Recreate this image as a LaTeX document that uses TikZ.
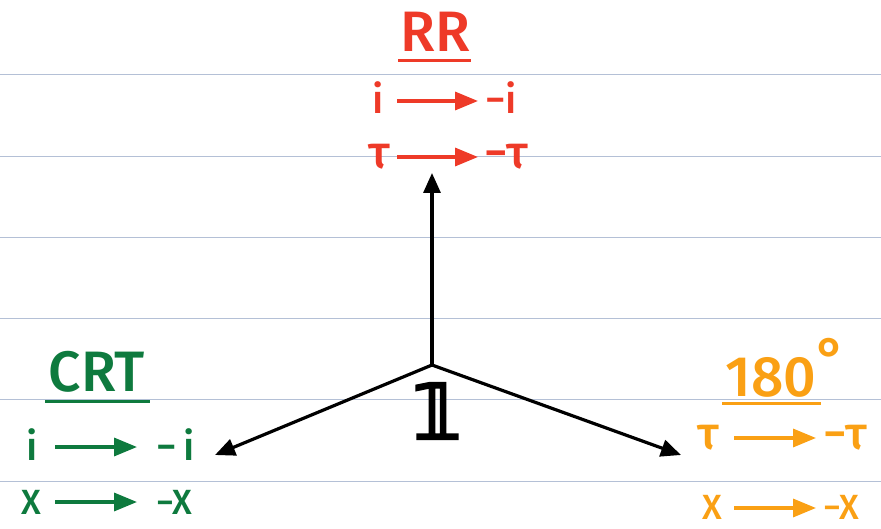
\documentclass[tikz,border=0pt]{standalone}
\usepackage{fontspec}
\setmainfont{Fira Sans}[UprightFont=* Medium, BoldFont=* SemiBold]
\newfontfamily\dejavu{DejaVu Sans}[FakeBold=4]
\usetikzlibrary{arrows.meta}
\definecolor{rrred}{RGB}{238,58,40}
\definecolor{crtgreen}{RGB}{14,122,62}
\definecolor{degorange}{RGB}{250,160,20}
\definecolor{ruled}{RGB}{180,192,214}
\begin{document}
\begin{tikzpicture}[x=1pt,y=-1pt,
  rule/.style={ruled, line width=1pt},
  title/.style={font=\fontsize{57}{57}\selectfont, inner sep=0pt},
  sym/.style={font=\fontsize{40}{40}\selectfont, inner sep=0pt},
  tsym/.style={font=\fontsize{46}{46}\selectfont, inner sep=0pt},
  xsym/.style={font=\fontsize{35}{35}\selectfont, inner sep=0pt},
  maparrow/.style={line width=3.4pt, -{Triangle[length=23pt,width=18pt]}},
  mainarrow/.style={line width=3.2pt, black, line join=round, -{Triangle[length=20pt,width=17pt]}},
  uline/.style={line width=3pt},
]
\useasboundingbox (0,0) rectangle (881,529);
\foreach \y in {75,156.2,237.4,318.6,399.8,481} \draw[rule] (0,\y) -- (881,\y);

% RR
\node[title, text=rrred] (rr) at (435,32) {RR};
\draw[uline, rrred] (398,61) -- (471,61);
\node[sym, text=rrred] (rri) at (378,98) {i};
\node[sym, anchor=west, text=rrred] (rrmi) at (485,98) {−i};
\coordinate (rra1) at (397,101);
\coordinate (rrb1) at (478,101);
\draw[maparrow, rrred] (rra1) -- (rrb1);
\node[tsym, text=rrred] (rrt) at (379,157) {τ};
\node[tsym, anchor=west, text=rrred] (rrmt) at (484,157) {−τ};
\coordinate (rra2) at (397,157);
\coordinate (rrb2) at (478,157);
\draw[maparrow, rrred] (rra2) -- (rrb2);

% CRT
\node[title, text=crtgreen] (crt) at (97,372) {CRT};
\draw[uline, crtgreen] (45,401) -- (150,401);
\node[sym, text=crtgreen] (crti) at (32,445) {i};
\node[sym, anchor=west, text=crtgreen] (crtmi) at (156,445) {−\,i};
\coordinate (crta1) at (55,447);
\coordinate (crtb1) at (137,447);
\draw[maparrow, crtgreen] (crta1) -- (crtb1);
\node[xsym, text=crtgreen] (crtx) at (31,502) {X};
\node[xsym, anchor=west, text=crtgreen] (crtmx) at (156,502) {−X};
\coordinate (crta2) at (55,502);
\coordinate (crtb2) at (137,502);
\draw[maparrow, crtgreen] (crta2) -- (crtb2);

% 180
\node[title, text=degorange] (deg) at (786,368) {180\raisebox{18pt}{°}};
\draw[uline, degorange] (722,403) -- (821,403);
\node[tsym, text=degorange] (degt) at (708,438) {τ};
\node[tsym, anchor=west, text=degorange] (degmt) at (823,438) {−τ};
\coordinate (dega1) at (734,438);
\coordinate (degb1) at (816,438);
\draw[maparrow, degorange] (dega1) -- (degb1);
\node[xsym, text=degorange] (degx) at (712,507) {X};
\node[xsym, anchor=west, text=degorange] (degmx) at (823,507) {−X};
\coordinate (dega2) at (734,508);
\coordinate (degb2) at (816,508);
\draw[maparrow, degorange] (dega2) -- (degb2);

% centre
\coordinate (c) at (432,365);
\coordinate (up) at (432,173);
\coordinate (lt) at (215,455);
\coordinate (rt) at (681,455);
\draw[mainarrow] (c) -- (up);
\draw[mainarrow] (c) -- (lt);
\draw[mainarrow] (c) -- (rt);
\node[inner sep=0pt, font=\dejavu\fontsize{76}{76}\selectfont] (one) at (437,411) {𝟙};
\end{tikzpicture}
\end{document}
